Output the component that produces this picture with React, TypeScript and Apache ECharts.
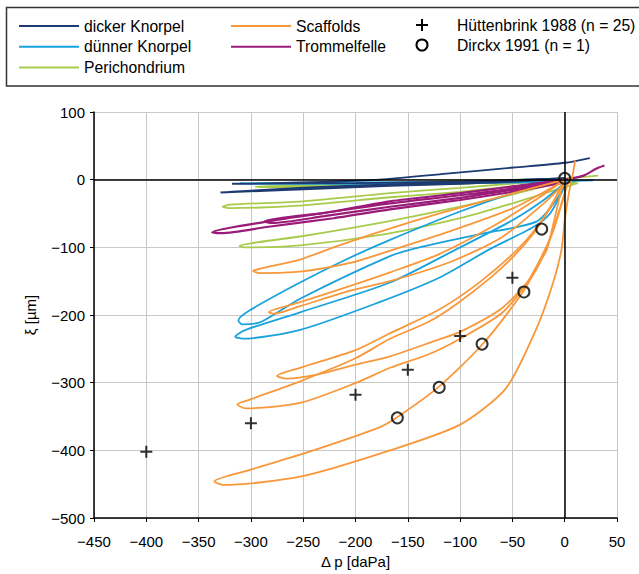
import React, { useEffect, useRef } from "react";
import * as echarts from "echarts";

// ---- axis ticks ----
const xTicks = { min: -450, max: 50, step: 50 };
const yTicks = { min: -500, max: 100, step: 100 };

// ---- dicker Knorpel (thick cartilage) ----
const dickerLoop1 = [[0, 2], [-50, -3], [-100, -6], [-167, -9], [-250, -14], [-329, -19], [-318, -18], [-250, -12], [-167, -7], [-100, -4], [-50, -1], [0, 2]];
const dickerLoop2 = [[0, 2], [-100, -3], [-200, -5], [-318, -6], [-310, -6], [-225, -3], [-177, 0], [-113, 9], [-49, 18], [0, 25], [24, 32]];

// ---- dünner Knorpel (thin cartilage) ----
const duennerLoop1 = [[27, -1], [0, -2], [-100, -3], [-200, -4], [-311, -5], [-300, -6], [-200, -6], [-100, -5], [0, -3], [18, -1]];
const duennerLoop2 = [[0, 0], [-20, -8], [-50, -20], [-100, -47], [-167, -89], [-209, -118], [-253, -152], [-301, -193], [-312, -208], [-308, -214], [-290, -210], [-253, -176], [-167, -113], [-139, -100], [-80, -80], [-27, -62], [-8, -30], [0, -8]];
const duennerLoop3 = [[0, -5], [-20, -30], [-50, -60], [-100, -100], [-167, -152], [-253, -196], [-305, -222], [-315, -232], [-308, -235], [-253, -222], [-177, -181], [-120, -145], [-72, -103], [-30, -70], [-14, -50], [0, -10]];

// ---- Perichondrium ----
const periLoop1 = [[32, 6], [0, 2], [-100, -2], [-167, -5], [-230, -8], [-296, -10], [-290, -11], [-200, -9], [-100, -6], [0, -2], [13, -6]];
const periLoop2 = [[0, 0], [-50, -6], [-100, -12], [-167, -20], [-250, -32], [-320, -37], [-327, -40], [-320, -42], [-250, -38], [-167, -26], [-100, -18], [-50, -10], [0, -3]];
const periLoop3 = [[10, -5], [0, -5], [-50, -22], [-100, -40], [-170, -62], [-253, -84], [-300, -94], [-311, -98], [-305, -100], [-253, -97], [-170, -80], [-100, -57], [-50, -35], [-15, -18], [11, -6]];

// ---- Scaffolds ----
const scafLoop1 = [[0, 0], [-49, -20], [-113, -47], [-177, -77], [-221, -100], [-253, -118], [-290, -131], [-298, -135], [-292, -138], [-253, -136], [-205, -123], [-177, -110], [-113, -78], [-49, -42], [-8, -8], [0, 0]];
const scafLoop2 = [[0, 0], [-30, -32], [-70, -70], [-120, -110], [-167, -137], [-205, -157], [-253, -181], [-283, -196], [-278, -198], [-253, -187], [-205, -164], [-167, -150], [-110, -122], [-60, -85], [-20, -35], [0, -5]];
const scafLoop3 = [[0, 0], [-15, -45], [-40, -95], [-80, -150], [-120, -192], [-167, -227], [-200, -252], [-253, -278], [-275, -290], [-266, -294], [-237, -288], [-199, -273], [-167, -261], [-120, -236], [-100, -225], [-60, -190], [-30, -140], [-12, -80], [0, -20]];
const scafLoop4 = [[0, 0], [-10, -30], [-30, -80], [-60, -130], [-100, -180], [-130, -210], [-167, -235], [-200, -264], [-253, -298], [-301, -325], [-313, -332], [-305, -338], [-253, -330], [-199, -300], [-167, -278], [-130, -258], [-100, -235], [-60, -197], [-35, -150], [-15, -90], [0, -20], [5, 5]];
const scafLoop5 = [[0, 0], [-4, -20], [-10, -60], [-17, -103], [-25, -125], [-40, -166], [-79, -244], [-121, -307], [-161, -352], [-177, -366], [-250, -405], [-301, -429], [-335, -446], [-327, -451], [-253, -439], [-167, -400], [-100, -362], [-56, -308], [-27, -220], [-11, -152], [-3, -103], [0, -60], [4, -20], [8, 10], [10, 28]];

// ---- Trommelfelle (eardrums) ----
const trommelLoop1 = [[38, 21], [31, 17], [18, 6], [0, 0], [-50, -10], [-100, -20], [-167, -32], [-221, -47], [-285, -62], [-337, -78], [-328, -79], [-285, -70], [-221, -57], [-167, -44], [-100, -30], [-50, -18], [0, -4]];
const trommelLoop2 = [[0, -1], [-50, -13], [-100, -23], [-167, -35], [-230, -49], [-287, -62], [-280, -64], [-230, -54], [-167, -40], [-100, -27], [-50, -15], [0, -2]];

// ---- reference data points ----
const huettenbrink = [[-400, -402], [-300, -360], [-200, -318], [-150, -281], [-100, -231], [-50, -145]];
const dirckx = [[-160, -352], [-120, -307], [-79, -243], [-39, -166], [-22, -73], [0, 2]];

const names = {
  dick: "dicker Knorpel",
  duenn: "dünner Knorpel",
  peri: "Perichondrium",
  scaf: "Scaffolds",
  trommel: "Trommelfelle",
  huett: "Hüttenbrink 1988 (n = 25)",
  dirckx: "Dirckx 1991 (n = 1)",
};

const colors = {
  dick: "#1d3a72",
  duenn: "#1aa2dd",
  peri: "#a9cb4c",
  scaf: "#f8983b",
  trommel: "#9a1b78",
};

const FONT = '"Liberation Sans", Arial, Helvetica, sans-serif';
const minus = (v: number) => String(v).replace("-", "\u2212");

function lineSeries(name: string, data: number[][], color: string, width = 1.8, extra: any = {}) {
  return {
    type: "line",
    name,
    data,
    showSymbol: false,
    symbol: "none",
    smooth: 0.25,
    lineStyle: { color, width },
    itemStyle: { color },
    emphasis: { disabled: true },
    silent: true,
    ...extra,
  };
}

const plusPath = "path://M5,0H7V5H12V7H7V12H5V7H0V5H5Z";

export default function App() {
  const ref = useRef<HTMLDivElement>(null);
  useEffect(() => {
    if (!ref.current) return;
    const chart = echarts.init(ref.current, undefined, { renderer: "svg" });
    const legendText = { fontSize: 15.7, color: "#000", fontFamily: FONT };
    const legendCommon = {
      orient: "vertical",
      align: "left",
      itemWidth: 60,
      itemHeight: 14,
      itemGap: 4.8,
      top: 18,
      textStyle: legendText,
      selectedMode: false,
      padding: 0,
      itemStyle: { opacity: 0 },
    };
    // manual legend column for the marker series (symbol at x=422, text at x=457)
    const markerLegend = [
      { type: "rect", shape: { x: 416, y: 24, width: 12, height: 2 }, style: { fill: "#000" }, silent: true },
      { type: "rect", shape: { x: 421, y: 19, width: 2, height: 12 }, style: { fill: "#000" }, silent: true },
      { type: "circle", shape: { cx: 422, cy: 45, r: 5.5 }, style: { fill: "none", stroke: "#000", lineWidth: 2 }, silent: true },
      { type: "text", x: 457, y: 25, silent: true, style: { text: names.huett, fill: "#000", font: `15.7px ${FONT}`, textVerticalAlign: "middle" } },
      { type: "text", x: 457, y: 45, silent: true, style: { text: names.dirckx, fill: "#000", font: `15.7px ${FONT}`, textVerticalAlign: "middle" } },
    ];
    const option: any = {
      animation: false,
      backgroundColor: "#fff",
      textStyle: { fontFamily: FONT },
      grid: { left: 94, top: 112, width: 523, height: 411, containLabel: false },
      legend: [
        { ...legendCommon, left: 18, data: [names.dick, names.duenn, names.peri] },
        { ...legendCommon, left: 230, data: [names.scaf, names.trommel] },
      ],
      graphic: [
        {
          type: "rect",
          shape: { x: 6.5, y: 7.5, width: 700, height: 78.5 },
          style: { fill: "none", stroke: "#333", lineWidth: 1.5 },
          silent: true,
        },
        ...markerLegend,
      ],
      xAxis: {
        type: "value",
        min: xTicks.min,
        max: xTicks.max,
        interval: xTicks.step,
        axisLine: { onZero: false, lineStyle: { color: "#000", width: 1.5 } },
        axisTick: { show: true, length: 4, lineStyle: { color: "#000", width: 1 } },
        axisLabel: { fontSize: 15, color: "#000", fontFamily: FONT, margin: 16, formatter: minus },
        splitLine: { show: true, lineStyle: { color: "#c8c8c8", width: 1 } },
        name: "\u0394 p [daPa]",
        nameLocation: "middle",
        nameGap: 36,
        nameTextStyle: { fontSize: 15, color: "#000", fontFamily: FONT },
      },
      yAxis: {
        type: "value",
        min: yTicks.min,
        max: yTicks.max,
        interval: yTicks.step,
        axisLine: { onZero: false, lineStyle: { color: "#000", width: 1.5 } },
        axisTick: { show: true, length: 4, lineStyle: { color: "#000", width: 1 } },
        axisLabel: { fontSize: 15, color: "#000", fontFamily: FONT, margin: 9, formatter: minus },
        splitLine: { show: true, lineStyle: { color: "#c8c8c8", width: 1 } },
        name: "\u03be [\u00b5m]",
        nameLocation: "middle",
        nameGap: 56,
        nameTextStyle: { fontSize: 15, color: "#000", fontFamily: FONT },
      },
      series: [
        lineSeries(names.peri, periLoop1, colors.peri, 1.8, {
          markLine: {
            silent: true,
            symbol: "none",
            label: { show: false },
            lineStyle: { color: "#000", type: "solid", width: 1.5 },
            emphasis: { disabled: true },
            data: [{ xAxis: 0 }, { yAxis: 0 }],
          },
        }),
        lineSeries(names.peri, periLoop2, colors.peri),
        lineSeries(names.peri, periLoop3, colors.peri),
        lineSeries(names.duenn, duennerLoop1, colors.duenn),
        lineSeries(names.duenn, duennerLoop2, colors.duenn),
        lineSeries(names.duenn, duennerLoop3, colors.duenn),
        lineSeries(names.dick, dickerLoop1, colors.dick, 2),
        lineSeries(names.dick, dickerLoop2, colors.dick, 1.8),
        lineSeries(names.trommel, trommelLoop1, colors.trommel, 2.2),
        lineSeries(names.trommel, trommelLoop2, colors.trommel, 2.2),
        lineSeries(names.scaf, scafLoop1, colors.scaf),
        lineSeries(names.scaf, scafLoop2, colors.scaf),
        lineSeries(names.scaf, scafLoop3, colors.scaf),
        lineSeries(names.scaf, scafLoop4, colors.scaf),
        lineSeries(names.scaf, scafLoop5, colors.scaf),
        {
          type: "scatter",
          name: names.huett,
          data: huettenbrink,
          symbol: plusPath,
          symbolSize: 12,
          itemStyle: { color: "#000" },
          silent: true,
          z: 5,
        },
        {
          type: "scatter",
          name: names.dirckx,
          data: dirckx,
          symbol: "circle",
          symbolSize: 11,
          itemStyle: { color: "rgba(0,0,0,0)", borderColor: "#000", borderWidth: 2 },
          silent: true,
          z: 5,
        },
      ],
    };
    chart.setOption(option);
    return () => chart.dispose();
  }, []);
  return (
    <div
      ref={ref}
      style={{ position: "fixed", left: 0, top: 0, width: 639, height: 574, background: "#fff" }}
    />
  );
}
